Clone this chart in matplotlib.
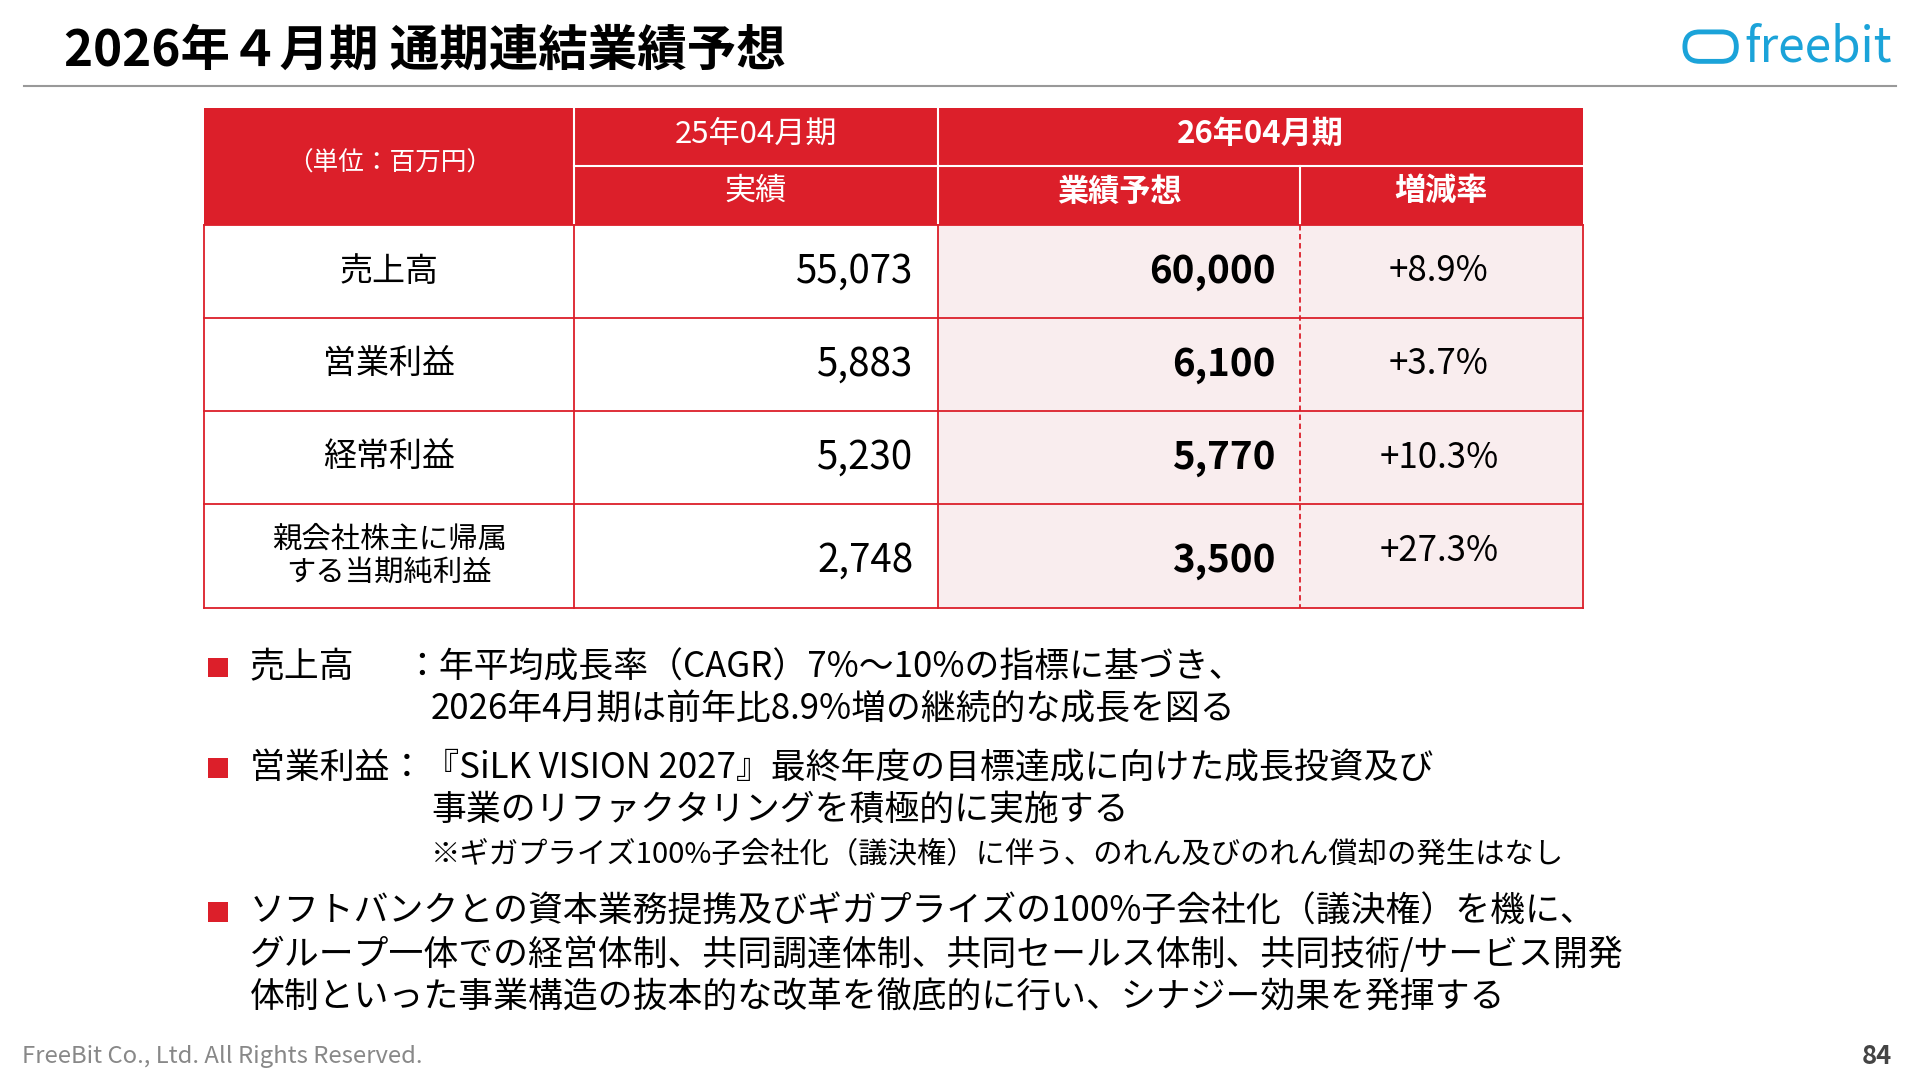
import matplotlib
matplotlib.use("Agg")
import matplotlib.pyplot as plt
from matplotlib.patches import Rectangle, FancyBboxPatch

plt.rcParams['font.family'] = ['Noto Sans CJK JP', 'DejaVu Sans']

categories = ["売上高", "営業利益", "経常利益", "親会社株主に帰属\nする当期純利益"]
actual_fy25 = ["55,073", "5,883", "5,230", "2,748"]
forecast_fy26 = ["60,000", "6,100", "5,770", "3,500"]
growth = ["+8.9%", "+3.7%", "+10.3%", "+27.3%"]

RED = "#DC1F2A"
PINK = "#F9EDEE"
K = 1.32
W, H = 1568, 880
fig = plt.figure(figsize=(19.2, 10.8), dpi=100)
ax = fig.add_axes([0, 0, 1, 1])
ax.set_xlim(0, W); ax.set_ylim(H, 0); ax.axis("off")

ax.text(52, 42, "2026年４月期 通期連結業績予想", fontsize=27*K, fontweight="bold", va="center", ha="left")
ax.plot([20, 1548], [70, 70], color="#999999", lw=1.5)
ax.add_patch(FancyBboxPatch((1376, 26), 42, 24, boxstyle="round,pad=0,rounding_size=12",
                            fill=False, ec="#1BA3D9", lw=3.5))
ax.text(1545, 39, "freebit", fontsize=26*K, color="#1BA3D9", ha="right", va="center")

cols = [167, 469, 766, 1062, 1293]
rows = [183, 259, 335, 411, 495]
ax.add_patch(Rectangle((167, 88), 1293 - 167, 95, color=RED, lw=0))
ax.add_patch(Rectangle((766, 183), 1293 - 766, 495 - 183, color=PINK, lw=0))
for x in [469, 766]:
    ax.plot([x, x], [88, 183], color="white", lw=1.5)
ax.plot([1062, 1062], [135, 183], color="white", lw=1.5)
ax.plot([469, 1293], [135, 135], color="white", lw=1.5)
ax.text(318, 133, "（単位：百万円）", fontsize=14*K, color="white", ha="center", va="center")
ax.text(617, 109, "25年04月期", fontsize=17*K, color="white", ha="center", va="center")
ax.text(617, 156, "実績", fontsize=17*K, color="white", ha="center", va="center")
ax.text(1029, 109, "26年04月期", fontsize=17*K, color="white", ha="center", va="center", fontweight="bold")
ax.text(914, 156, "業績予想", fontsize=17*K, color="white", ha="center", va="center", fontweight="bold")
ax.text(1177, 156, "増減率", fontsize=17*K, color="white", ha="center", va="center", fontweight="bold")
for y in rows:
    ax.plot([167, 1293], [y, y], color=RED, lw=1.3)
for x in [167, 469, 766, 1293]:
    ax.plot([x, x], [183, 495], color=RED, lw=1.3)
ax.plot([1062, 1062], [183, 495], color=RED, lw=1.3, ls=(0, (3, 2)))
for i in range(4):
    yc = (rows[i] + rows[i + 1]) / 2
    last = i == 3
    ax.text(318, yc, categories[i], fontsize=(18 if not last else 16)*K, ha="center", va="center", linespacing=1.15)
    ax.text(746, yc + (4 if last else 0), actual_fy25[i], fontsize=21*K, ha="right", va="center")
    ax.text(1042, yc + (4 if last else 0), forecast_fy26[i], fontsize=21*K, ha="right", va="center", fontweight="bold")
    ax.text(1175, yc - (4 if last else 0), growth[i], fontsize=19*K, ha="center", va="center")

def bullet(y):
    ax.add_patch(Rectangle((170, y - 8), 16, 16, color=RED, lw=0))
fs = 19*K
bullet(544)
ax.text(204, 544, "売上高", fontsize=fs, va="center")
ax.text(330, 544, "：年平均成長率（CAGR）7%～10%の指標に基づき、", fontsize=fs, va="center")
ax.text(352, 578, "2026年4月期は前年比8.9%増の継続的な成長を図る", fontsize=fs, va="center")
bullet(626)
ax.text(204, 626, "営業利益：『SiLK VISION 2027』最終年度の目標達成に向けた成長投資及び", fontsize=fs, va="center")
ax.text(352, 660, "事業のリファクタリングを積極的に実施する", fontsize=fs, va="center")
ax.text(352, 696, "※ギガプライズ100%子会社化（議決権）に伴う、のれん及びのれん償却の発生はなし", fontsize=16*K, va="center")
bullet(743)
ax.text(204, 743, "ソフトバンクとの資本業務提携及びギガプライズの100%子会社化（議決権）を機に、", fontsize=fs, va="center")
ax.text(204, 778, "グループ一体での経営体制、共同調達体制、共同セールス体制、共同技術/サービス開発", fontsize=fs, va="center")
ax.text(204, 813, "体制といった事業構造の抜本的な改革を徹底的に行い、シナジー効果を発揮する", fontsize=fs, va="center")

ax.text(18, 861, "FreeBit Co., Ltd. All Rights Reserved.", fontsize=13*K, color="#888888", va="center")
ax.text(1545, 861, "84", fontsize=14*K, fontweight="bold", color="#444444", ha="right", va="center")

fig.savefig("out.png", dpi=100)
